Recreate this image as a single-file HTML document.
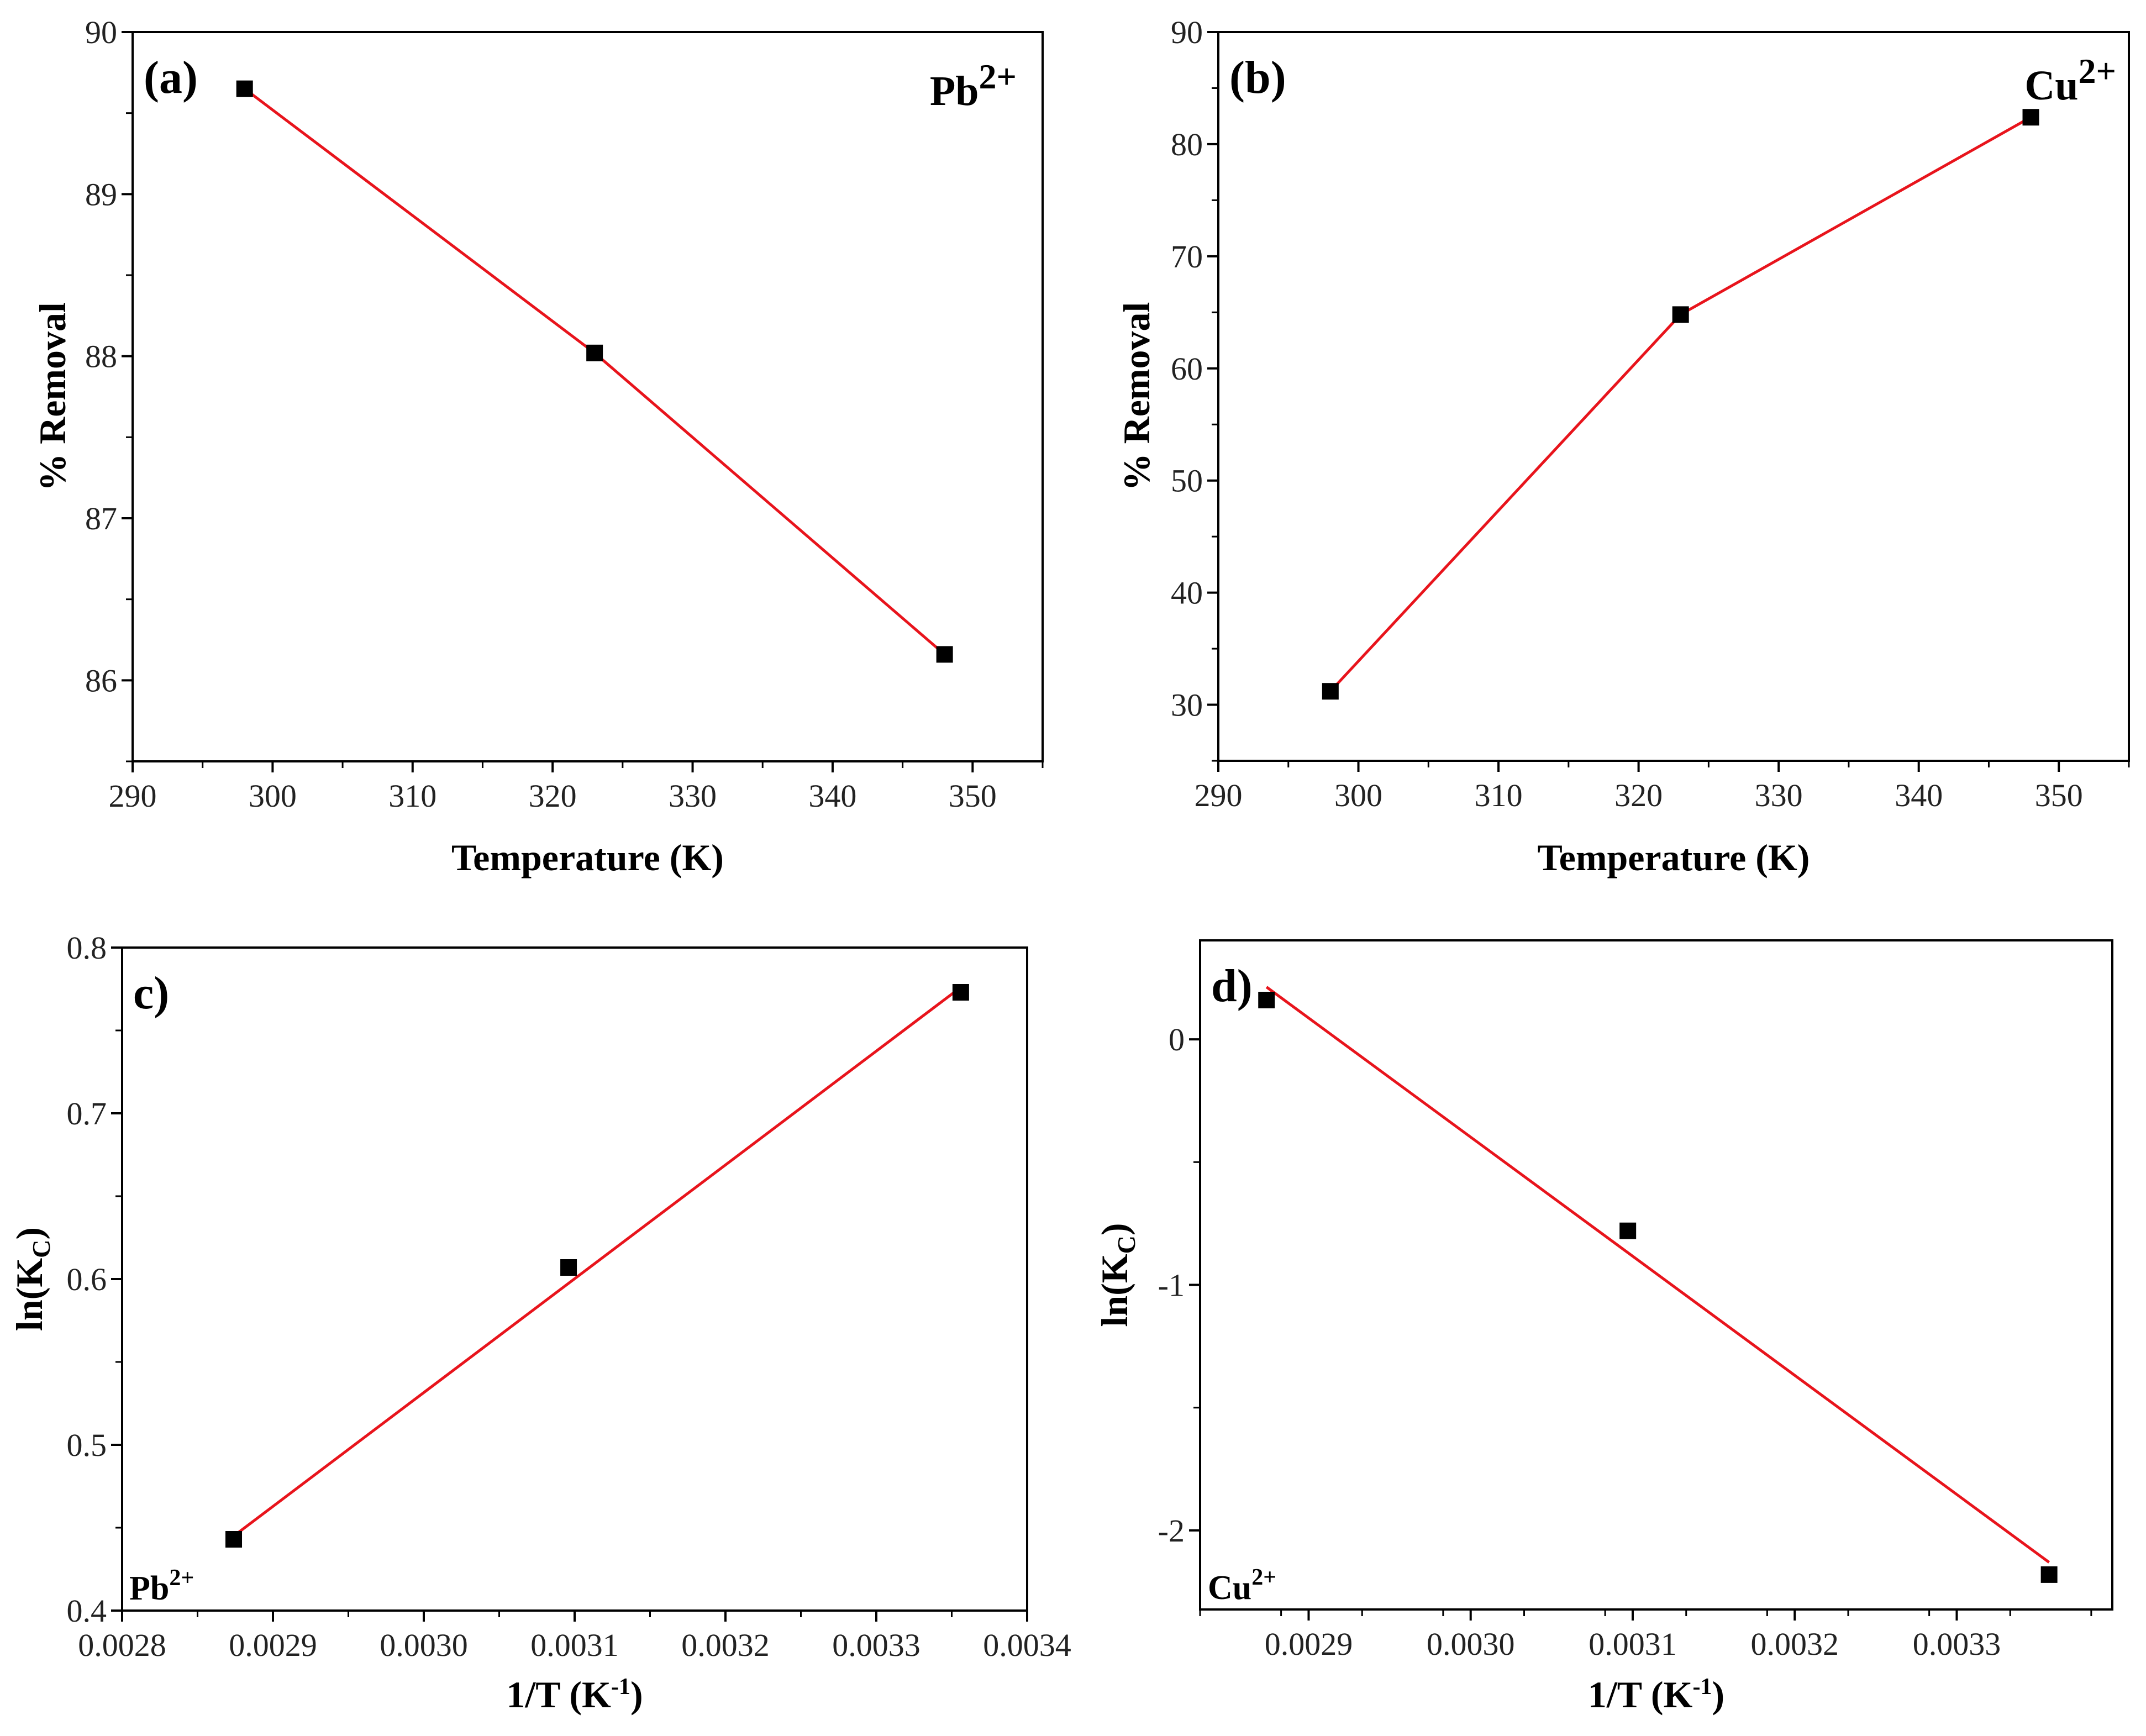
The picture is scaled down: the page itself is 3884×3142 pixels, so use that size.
<!DOCTYPE html>
<html><head><meta charset="utf-8">
<style>
html,body{margin:0;padding:0;background:#fff;}
svg{display:block;font-family:"Liberation Serif",serif;}
</style></head>
<body>
<svg id="fig" width="3884" height="3142" viewBox="0 0 3884 3142" xmlns="http://www.w3.org/2000/svg"></svg>
<script>
// Panel (a) Pb2+ removal
const tempA = [298, 323, 348];
const removalA = [89.65, 88.02, 86.16];
const xTicksA = [290, 300, 310, 320, 330, 340, 350];
const yTicksA = [86, 87, 88, 89, 90];
// Panel (b) Cu2+ removal
const tempB = [298, 323, 348];
const removalB = [31.2, 64.8, 82.4];
const xTicksB = [290, 300, 310, 320, 330, 340, 350];
const yTicksB = [30, 40, 50, 60, 70, 80, 90];
// Panel (c) Pb2+ van't Hoff
const invTC = [0.002874, 0.003096, 0.003356];
const lnKcC = [0.443, 0.607, 0.773];
const fitC = [0.445, 0.776];
const xTicksC = ["0.0028","0.0029","0.0030","0.0031","0.0032","0.0033","0.0034"];
const yTicksC = ["0.4","0.5","0.6","0.7","0.8"];
// Panel (d) Cu2+ van't Hoff
const invTD = [0.002874, 0.003097, 0.003357];
const lnKcD = [0.16, -0.78, -2.18];
const fitD = [0.213, -2.13];
const xTicksD = ["0.0029","0.0030","0.0031","0.0032","0.0033"];
const yTicksD = ["-2","-1","0"];

const NS = "http://www.w3.org/2000/svg";
const svg = document.getElementById('fig');
function mk(tag, attrs, parent, text){
  const e = document.createElementNS(NS, tag);
  for (const k in attrs) e.setAttribute(k, attrs[k]);
  if (text !== undefined) e.textContent = text;
  (parent || svg).appendChild(e);
  return e;
}
function panel(cfg){
  const g = mk('g', {});
  
  
  const L=cfg.L,R=cfg.R,T=cfg.T,B=cfg.B;
  const sx = v => L + (v - cfg.xmin) / (cfg.xmax - cfg.xmin) * (R - L);
  const sy = v => B - (v - cfg.ymin) / (cfg.ymax - cfg.ymin) * (B - T);
  const frame = mk('rect', {x:L,y:T,width:R-L,height:B-T,fill:'none',stroke:'#000','stroke-width':4}, g);
  
  
  cfg.xTicks.forEach(t => {
    const v = parseFloat(t), x = sx(v);
    const tk = mk('line', {x1:x,y1:B,x2:x,y2:B+20,stroke:'#000','stroke-width':4}, g);
    
    
    const lb = mk('text', {x:x,y:B+82,'font-size':58,'text-anchor':'middle',fill:'#222'}, g, t);
    
    
  });
  for (let v = cfg.xmin; v <= cfg.xmax + 1e-12; v += cfg.xMinor) {
    const x = sx(v);
    const m = mk('line', {x1:x,y1:B,x2:x,y2:B+12,stroke:'#000','stroke-width':3}, g);
    
    
  }
  cfg.yTicks.forEach(t => {
    const v = parseFloat(t), y = sy(v);
    const tk = mk('line', {x1:L-20,y1:y,x2:L,y2:y,stroke:'#000','stroke-width':4}, g);
    
    
    const lb = mk('text', {x:L-28,y:y+20,'font-size':58,'text-anchor':'end',fill:'#222'}, g, t);
    
    
  });
  for (let v = cfg.yMinorStart; v <= cfg.ymax + 1e-12; v += cfg.yMinor) {
    const y = sy(v);
    const m = mk('line', {x1:L-12,y1:y,x2:L,y2:y,stroke:'#000','stroke-width':3}, g);
    
    
  }
  const pts = cfg.lx.map((x,i) => sx(x)+','+sy(cfg.ly[i])).join(' ');
  const pl = mk('polyline', {points:pts,fill:'none',stroke:'#e8141c','stroke-width':5}, g);
  
  
  cfg.px.forEach((x,i) => {
    const s = 30;
    const r = mk('rect', {x:sx(x)-s/2,y:sy(cfg.py[i])-s/2,width:s,height:s,fill:'#000'}, g);
    
    
  });
  const xt = mk('text', {x:(L+R)/2,y:cfg.xTitleY,'font-size':68,'font-weight':'bold','text-anchor':'middle'}, g);
  
  
  xt.innerHTML = cfg.xTitle;
  const yt = mk('text', {x:0,y:0,'font-size':68,'font-weight':'bold','text-anchor':'middle',transform:`translate(${cfg.yTitleX},${(T+B)/2}) rotate(-90)`}, g);
  
  
  yt.innerHTML = cfg.yTitle;
  const pl2 = mk('text', {x:L+20,y:T+cfg.labelDy,'font-size':84,'font-weight':'bold'}, g, cfg.label);
  
  
  const ion = mk('text', {x:cfg.ionX,y:cfg.ionY,'font-size':cfg.ionSize,'font-weight':'bold','text-anchor':cfg.ionAnchor}, g);
  
  
  ion.innerHTML = cfg.ion;
}
const kinv = '1/T (K<tspan dy="-24" font-size="42">-1</tspan><tspan dy="24">)</tspan>';
const lnk = 'ln(K<tspan dy="14" font-size="46">C</tspan><tspan dy="-14">)</tspan>';
panel({name:'panel-a',L:240,R:1887,T:58,B:1378,xmin:290,xmax:355,ymin:85.5,ymax:90,
  xTicks:xTicksA.map(String),yTicks:yTicksA.map(String),xMinor:5,yMinor:0.5,yMinorStart:85.5,
  lx:tempA,ly:removalA,px:tempA,py:removalA,xTitle:'Temperature (K)',xTitleY:1575,
  yTitle:'% Removal',yTitleX:118,label:'(a)',labelDy:110,
  ion:'Pb<tspan dy="-30" font-size="64">2+</tspan>',ionX:1840,ionY:190,ionSize:76,ionAnchor:'end'});
panel({name:'panel-b',L:2205,R:3853,T:58,B:1377,xmin:290,xmax:355,ymin:25,ymax:90,
  xTicks:xTicksB.map(String),yTicks:yTicksB.map(String),xMinor:5,yMinor:5,yMinorStart:25,
  lx:tempB,ly:removalB,px:tempB,py:removalB,xTitle:'Temperature (K)',xTitleY:1575,
  yTitle:'% Removal',yTitleX:2080,label:'(b)',labelDy:110,
  ion:'Cu<tspan dy="-30" font-size="64">2+</tspan>',ionX:3830,ionY:180,ionSize:76,ionAnchor:'end'});
panel({name:'panel-c',L:221,R:1859,T:1715,B:2915,xmin:0.0028,xmax:0.0034,ymin:0.4,ymax:0.8,
  xTicks:xTicksC,yTicks:yTicksC,xMinor:0.00005,yMinor:0.05,yMinorStart:0.4,
  lx:[invTC[0],invTC[2]],ly:fitC,px:invTC,py:lnKcC,xTitle:kinv,xTitleY:3090,
  yTitle:lnk,yTitleX:76,label:'c)',labelDy:110,
  ion:'Pb<tspan dy="-26" font-size="42">2+</tspan>',ionX:234,ionY:2895,ionSize:62,ionAnchor:'start'});
panel({name:'panel-d',L:2172,R:3823,T:1702,B:2913,xmin:0.002833,xmax:0.003396,ymin:-2.322,ymax:0.403,
  xTicks:xTicksD,yTicks:yTicksD,xMinor:0.00005,yMinor:0.5,yMinorStart:-2,
  lx:[invTD[0],invTD[2]],ly:fitD,px:invTD,py:lnKcD,xTitle:kinv,xTitleY:3090,
  yTitle:lnk,yTitleX:2040,label:'d)',labelDy:110,
  ion:'Cu<tspan dy="-26" font-size="42">2+</tspan>',ionX:2186,ionY:2894,ionSize:62,ionAnchor:'start'});
</script>
</body></html>
